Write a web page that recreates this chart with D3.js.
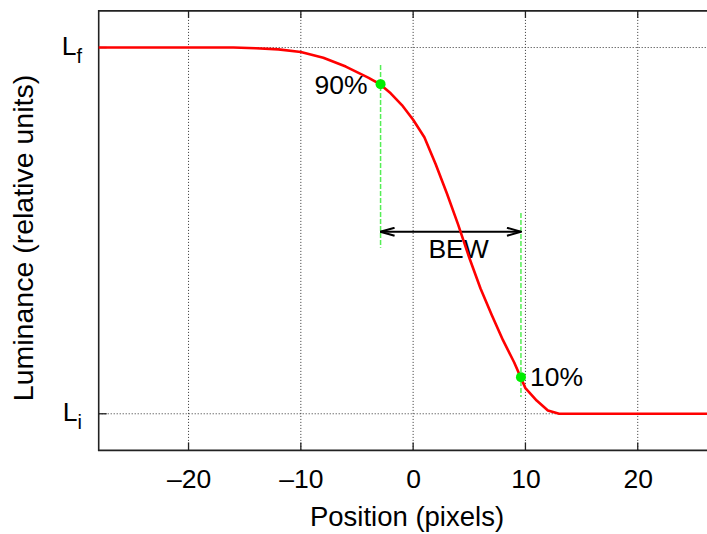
<!DOCTYPE html>
<html>
<head>
<meta charset="utf-8">
<script src="https://cdn.jsdelivr.net/npm/d3@7/dist/d3.min.js"></script>
<style>
  html, body { margin: 0; padding: 0; background: #fff; }
  text { font-family: "Liberation Sans", Arial, Helvetica, sans-serif; fill: #000; }
</style>
</head>
<body>
<svg id="chart" width="707" height="534"></svg>
<script>
// ---- data ----
const positions = [-28, -16, -14, -12, -10, -8, -6, -4, -3, -2, -1, 0, 1, 2, 3, 4, 5, 6, 7, 8, 9, 10, 11, 12, 13, 28];
const luminance = [1, 1, 0.998, 0.995, 0.988, 0.972, 0.948, 0.918, 0.901, 0.875, 0.843, 0.803, 0.755, 0.682, 0.602, 0.517, 0.426, 0.342, 0.27, 0.201, 0.14, 0.07, 0.036, 0.009, 0, 0];
const xTickValues = [-20, -10, 0, 10, 20];
const yTickValues = [1, 0];
const yTickBase = ["L", "L"];
const yTickSub = ["f", "i"];
const markerX = [-2.9, 9.6];
const markerY = [0.9, 0.1];
const markerLabels = ["90%", "10%"];
const bewLabel = "BEW";
const xTitle = "Position (pixels)";
const yTitle = "Luminance (relative units)";

// ---- layout ----
const svg = d3.select("#chart");
const pLeft = 98.7, pTop = 10.9, pBottom = 450.4;
const x = d3.scaleLinear().domain([-28, 28]).range([pLeft, pLeft + 56 * 11.23]);
const y = d3.scaleLinear().domain([-0.1, 1.1]).range([pBottom, pTop]);
const xMax = 707;
const FS = 26.5;

// grid
const grid = svg.append("g").attr("stroke", "#333").attr("stroke-width", 1).attr("stroke-dasharray", "1,2");
grid.selectAll("line.v").data(xTickValues).join("line").attr("class", "v")
  .attr("x1", d => x(d)).attr("x2", d => x(d)).attr("y1", pTop).attr("y2", pBottom);
grid.selectAll("line.h").data(yTickValues).join("line").attr("class", "h")
  .attr("x1", pLeft).attr("x2", xMax).attr("y1", d => y(d)).attr("y2", d => y(d));

// axes via d3
const xAxisB = d3.axisBottom(x).tickValues(xTickValues).tickSize(0).tickPadding(0).tickFormat(d => d < 0 ? "\u2013" + Math.abs(d) : String(d));
const gx = svg.append("g").attr("transform", `translate(0,${pBottom})`).call(xAxisB);
gx.select(".domain").remove();
gx.selectAll("text").attr("font-size", FS).attr("dy", null).attr("y", 37.5)
  .attr("font-family", "Liberation Sans, Arial, sans-serif").attr("fill", "#000");

// tick marks (inward) bottom & top
const ticks = svg.append("g").attr("stroke", "#222").attr("stroke-width", 1.3);
ticks.selectAll("line.b").data(xTickValues).join("line").attr("class", "b")
  .attr("x1", d => x(d)).attr("x2", d => x(d)).attr("y1", pBottom).attr("y2", pBottom - 8);
ticks.selectAll("line.t").data(xTickValues).join("line").attr("class", "t")
  .attr("x1", d => x(d)).attr("x2", d => x(d)).attr("y1", pTop).attr("y2", pTop + 7);
ticks.selectAll("line.l").data(yTickValues).join("line").attr("class", "l")
  .attr("x1", pLeft).attr("x2", pLeft + 8).attr("y1", d => y(d)).attr("y2", d => y(d));

// y tick labels with subscripts
const yl = svg.append("g");
yTickValues.forEach((v, i) => {
  const t = yl.append("text").attr("x", 82).attr("y", y(v) + 7).attr("text-anchor", "end").attr("font-size", FS);
  t.append("tspan").text(yTickBase[i]);
  t.append("tspan").attr("font-size", 20).attr("dy", 8).text(yTickSub[i]);
});

// frame
svg.append("path")
  .attr("d", `M${xMax},${pTop}H${pLeft}V${pBottom}H${xMax}`)
  .attr("fill", "none").attr("stroke", "#222").attr("stroke-width", 1.6);

// green dashed guides
const guideTop = [0.952, 0.548];
const guideBot = [0.453, 0.046];
svg.append("g").selectAll("line").data(markerX).join("line")
  .attr("x1", d => x(d)).attr("x2", d => x(d))
  .attr("y1", (d, i) => y(guideTop[i])).attr("y2", (d, i) => y(guideBot[i]))
  .attr("stroke", "#55ee55").attr("stroke-width", 1.5).attr("stroke-dasharray", "5,2");

// arrow
const defs = svg.append("defs");
defs.append("marker").attr("id", "ah").attr("viewBox", "0 0 16 10").attr("refX", 15).attr("refY", 5)
  .attr("markerWidth", 16).attr("markerHeight", 10).attr("markerUnits", "userSpaceOnUse").attr("orient", "auto-start-reverse")
  .append("path").attr("d", "M1,1L15,5L1,9").attr("fill", "none").attr("stroke", "#000").attr("stroke-width", 2);
svg.append("line")
  .attr("x1", x(markerX[0])).attr("x2", x(markerX[1])).attr("y1", y(0.497)).attr("y2", y(0.497))
  .attr("stroke", "#000").attr("stroke-width", 2)
  .attr("marker-start", "url(#ah)").attr("marker-end", "url(#ah)");
svg.append("text").attr("x", x(4.05)).attr("y", y(0.425)).attr("text-anchor", "middle").attr("font-size", FS).text(bewLabel);

// curve
svg.append("path").datum(positions.map((p, i) => [p, luminance[i]]))
  .attr("d", d3.line().x(d => x(d[0])).y(d => y(d[1])))
  .attr("fill", "none").attr("stroke", "#ff0000").attr("stroke-width", 2.6).attr("stroke-linejoin", "round");

// markers
svg.append("g").selectAll("circle").data(markerX).join("circle")
  .attr("cx", d => x(d)).attr("cy", (d, i) => y(markerY[i])).attr("r", 5).attr("fill", "#00ee00");
svg.append("text").attr("x", x(markerX[0]) - 13).attr("y", y(markerY[0]) + 10).attr("text-anchor", "end").attr("font-size", FS).text(markerLabels[0]);
svg.append("text").attr("x", x(markerX[1]) + 9).attr("y", y(markerY[1]) + 9).attr("text-anchor", "start").attr("font-size", FS).text(markerLabels[1]);

// axis titles
svg.append("text").attr("x", 407).attr("y", 526).attr("text-anchor", "middle").attr("font-size", 27.5).text(xTitle);
svg.append("text").attr("transform", `translate(33,238) rotate(-90)`).attr("text-anchor", "middle").attr("font-size", 28.5).text(yTitle);
</script>
</body>
</html>
